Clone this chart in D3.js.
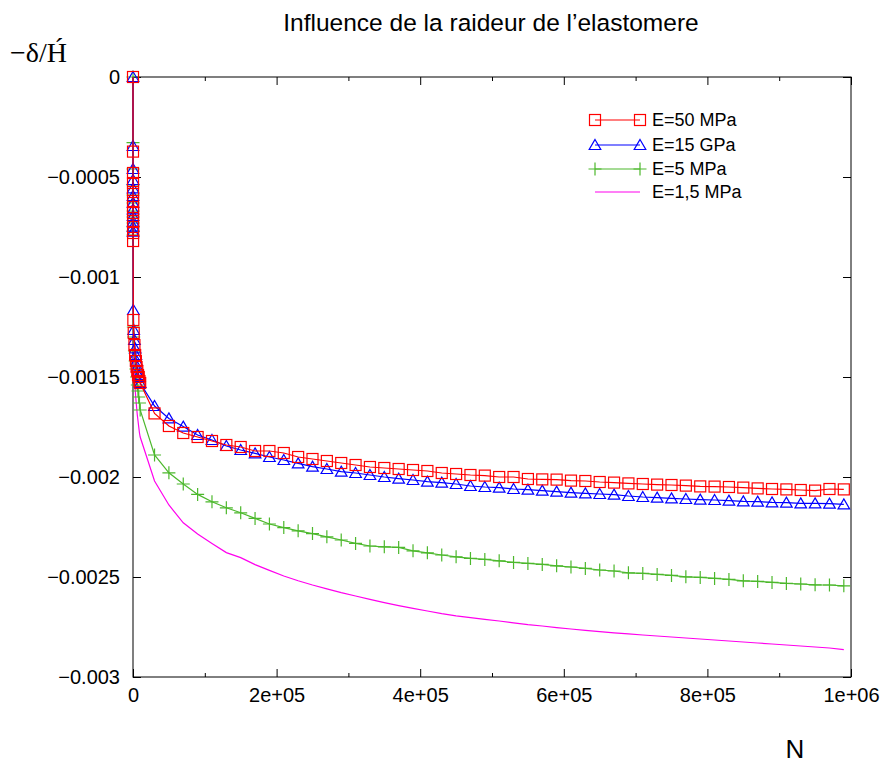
<!DOCTYPE html>
<html>
<head>
<meta charset="utf-8">
<script src="https://cdn.jsdelivr.net/npm/d3@7"></script>
<style>
  body { margin: 0; background: #fff; }
  svg text { font-family: "Liberation Sans", Arial, sans-serif; }
</style>
</head>
<body>
<div id="content"></div>
<script>
// N (cycles) shared by all four curves
var cycles = [0, 10, 20, 30, 40, 50, 60, 70, 80, 90, 100, 110,
  500, 1000, 2000, 3000, 4000, 5000, 6000, 7000, 8000, 9000,
  10000, 30000, 50000, 70000, 90000, 110000, 130000, 150000, 170000, 190000,
  210000, 230000, 250000, 270000, 290000, 310000, 330000, 350000, 370000, 390000,
  410000, 430000, 450000, 470000, 490000, 510000, 530000, 550000, 570000, 590000,
  610000, 630000, 650000, 670000, 690000, 710000, 730000, 750000, 770000, 790000,
  810000, 830000, 850000, 870000, 890000, 910000, 930000, 950000, 970000, 990000];

var e50MPa = [0, -0.000373, -0.00048, -0.00053, -0.000575, -0.00062, -0.00065, -0.00068, -0.00072, -0.00075, -0.00078, -0.00082,
  -0.001215, -0.00128, -0.00134, -0.00139, -0.00142, -0.00145, -0.00147, -0.00149, -0.0015, -0.00152,
  -0.00153, -0.001682, -0.001745, -0.00178, -0.0018, -0.00182, -0.00184, -0.00185, -0.00187, -0.00187,
  -0.00188, -0.0019, -0.00191, -0.00192, -0.00193, -0.00194, -0.00195, -0.001955, -0.00196, -0.001965,
  -0.00197, -0.00198, -0.001985, -0.00199, -0.001993, -0.002, -0.002, -0.00201, -0.002012, -0.002013,
  -0.002018, -0.00202, -0.002025, -0.002028, -0.002032, -0.002035, -0.002038, -0.00204, -0.002043, -0.002047,
  -0.002048, -0.00205, -0.002053, -0.002057, -0.00206, -0.002062, -0.002065, -0.002068, -0.00206, -0.002062];

var e15GPa = [0, -0.000345, -0.00046, -0.000515, -0.000557, -0.000595, -0.000628, -0.000662, -0.000695, -0.000723, -0.000748, -0.000773,
  -0.001165, -0.001265, -0.001315, -0.001357, -0.00139, -0.00142, -0.00145, -0.00147, -0.00149, -0.0015,
  -0.00153, -0.001645, -0.001707, -0.001748, -0.00179, -0.001815, -0.001845, -0.001865, -0.001882, -0.0019,
  -0.001915, -0.001932, -0.001948, -0.00196, -0.001973, -0.00198, -0.00199, -0.002, -0.002008, -0.002015,
  -0.002023, -0.002028, -0.002035, -0.002045, -0.00205, -0.002053, -0.00206, -0.002063, -0.002068, -0.002073,
  -0.002078, -0.002082, -0.002085, -0.002088, -0.002095, -0.0021, -0.002103, -0.002107, -0.00211, -0.002113,
  -0.002115, -0.002118, -0.002122, -0.002123, -0.002127, -0.002128, -0.002132, -0.002132, -0.002133, -0.002137];

var e5MPa = [0, -0.000328, -0.00046, -0.00054, -0.00059, -0.00063, -0.00067, -0.0007, -0.00073, -0.00075, -0.00077, -0.00079,
  -0.00125, -0.0013, -0.00137, -0.00142, -0.00146, -0.0015, -0.00154, -0.00157, -0.0016, -0.00163,
  -0.001665, -0.00189, -0.001979, -0.002035, -0.002087, -0.002124, -0.002154, -0.002179, -0.002207, -0.002235,
  -0.002253, -0.002269, -0.002283, -0.002299, -0.002315, -0.002332, -0.002345, -0.002349, -0.002352, -0.002369,
  -0.002379, -0.00239, -0.002399, -0.002407, -0.002412, -0.002419, -0.002427, -0.002432, -0.002437, -0.002444,
  -0.00245, -0.002457, -0.002465, -0.00247, -0.002479, -0.002482, -0.002487, -0.002492, -0.002499, -0.002502,
  -0.002507, -0.002512, -0.002519, -0.002522, -0.002527, -0.002532, -0.002535, -0.002539, -0.00254, -0.002544];

var e1_5MPa = [0, -0.00035, -0.00048, -0.00056, -0.00062, -0.00066, -0.0007, -0.00073, -0.00076, -0.00079, -0.00081, -0.00083,
  -0.0013, -0.0014, -0.0015, -0.00156, -0.00161, -0.00165, -0.00169, -0.00172, -0.00175, -0.00178,
  -0.0018, -0.00202, -0.00214, -0.002229, -0.002285, -0.002332, -0.002378, -0.002403, -0.002438, -0.002467,
  -0.002495, -0.002519, -0.00254, -0.002559, -0.002578, -0.002595, -0.002612, -0.002628, -0.002643, -0.002657,
  -0.00267, -0.002683, -0.002694, -0.002703, -0.002712, -0.00272, -0.002729, -0.002738, -0.002745, -0.002753,
  -0.00276, -0.002767, -0.002773, -0.002779, -0.002784, -0.00279, -0.002795, -0.0028, -0.002805, -0.00281,
  -0.002815, -0.00282, -0.002825, -0.00283, -0.002835, -0.00284, -0.002845, -0.00285, -0.002855, -0.002863];

var seriesNames = ["E=50 MPa", "E=15 GPa", "E=5 MPa", "E=1,5 MPa"];

var xTicks = [0, 200000, 400000, 600000, 800000, 1000000];
var xTickLabels = ["0", "2e+05", "4e+05", "6e+05", "8e+05", "1e+06"];
var xMinorTicks = [100000, 300000, 500000, 700000, 900000];
var yTicks = [0, -0.0005, -0.001, -0.0015, -0.002, -0.0025, -0.003];
var yTickLabels = ["0", "\u22120.0005", "\u22120.001", "\u22120.0015", "\u22120.002", "\u22120.0025", "\u22120.003"];

var width = 884, height = 764;
var plotLeft = 133, plotRight = 851, plotTop = 77, plotBottom = 677;

var colors = ["#ff0000", "#0000ff", "#4cb82c", "#ff00ee"];
var markers = ["square", "triangle", "plus", "none"];

var svg = d3.select("#content").append("svg")
  .attr("width", width)
  .attr("height", height);

var x = d3.scaleLinear().domain([0, 1000000]).range([plotLeft, plotRight]);
var y = d3.scaleLinear().domain([-0.003, 0]).range([plotBottom, plotTop]);

// axes, ticks pointing inward like gnuplot
svg.append("g")
  .attr("transform", "translate(0," + plotBottom + ")")
  .call(d3.axisBottom(x).tickValues(xTicks).tickFormat(function(d, i) { return xTickLabels[i]; })
    .tickSizeInner(-8).tickSizeOuter(0).tickPadding(11))
  .call(function(g) { g.select(".domain").remove(); });
svg.append("g")
  .attr("transform", "translate(0," + plotBottom + ")")
  .call(d3.axisBottom(x).tickValues(xMinorTicks).tickFormat("").tickSizeInner(-4).tickSizeOuter(0))
  .call(function(g) { g.select(".domain").remove(); });
svg.append("g")
  .attr("transform", "translate(0," + plotTop + ")")
  .call(d3.axisTop(x).tickValues(xTicks).tickFormat("").tickSizeInner(-8).tickSizeOuter(0))
  .call(function(g) { g.select(".domain").remove(); });
svg.append("g")
  .attr("transform", "translate(0," + plotTop + ")")
  .call(d3.axisTop(x).tickValues(xMinorTicks).tickFormat("").tickSizeInner(-4).tickSizeOuter(0))
  .call(function(g) { g.select(".domain").remove(); });
svg.append("g")
  .attr("transform", "translate(" + plotLeft + ",0)")
  .call(d3.axisLeft(y).tickValues(yTicks).tickFormat(function(d, i) { return yTickLabels[i]; })
    .tickSizeInner(-8).tickSizeOuter(0).tickPadding(13))
  .call(function(g) { g.select(".domain").remove(); });
svg.append("g")
  .attr("transform", "translate(" + plotRight + ",0)")
  .call(d3.axisRight(y).tickValues(yTicks).tickFormat("").tickSizeInner(-8).tickSizeOuter(0))
  .call(function(g) { g.select(".domain").remove(); });

svg.selectAll(".tick text")
  .style("font-size", "20px")
  .attr("fill", "#000");
svg.selectAll(".tick line").attr("stroke", "#000");

// frame
svg.append("rect")
  .attr("x", plotLeft).attr("y", plotTop)
  .attr("width", plotRight - plotLeft).attr("height", plotBottom - plotTop)
  .attr("fill", "none").attr("stroke", "#000").attr("stroke-width", 1);

// title and axis labels
svg.append("text")
  .attr("x", 491).attr("y", 31)
  .attr("text-anchor", "middle")
  .style("font-size", "24.5px")
  .text("Influence de la raideur de l\u2019elastomere");

svg.append("text")
  .attr("x", 10).attr("y", 62)
  .style("font-family", "'Liberation Serif', 'Times New Roman', serif")
  .style("font-size", "28px")
  .text("\u2212\u03b4/H\u0301");

svg.append("text")
  .attr("x", 795).attr("y", 758)
  .attr("text-anchor", "middle")
  .style("font-size", "26px")
  .text("N");

var allSeries = [e50MPa, e15GPa, e5MPa, e1_5MPa];

var line = d3.line()
  .x(function(d) { return x(d[0]); })
  .y(function(d) { return y(d[1]); });

function drawMarker(g, kind, px, py, color) {
  if (kind == "square") {
    g.append("rect")
      .attr("x", px - 5.5).attr("y", py - 5.5)
      .attr("width", 11).attr("height", 11)
      .attr("fill", "none").attr("stroke", color).attr("stroke-width", 1.2);
  } else if (kind == "triangle") {
    g.append("path")
      .attr("d", "M" + px + "," + (py - 5.5) + "L" + (px + 5.8) + "," + (py + 4.5) + "L" + (px - 5.8) + "," + (py + 4.5) + "Z")
      .attr("fill", "none").attr("stroke", color).attr("stroke-width", 1.2);
  } else if (kind == "plus") {
    g.append("path")
      .attr("d", "M" + (px - 6.5) + "," + py + "H" + (px + 6.5) + "M" + px + "," + (py - 6.5) + "V" + (py + 6.5))
      .attr("fill", "none").attr("stroke", color).attr("stroke-width", 1.2);
  }
}

// draw from back to front: magenta first, red last
for (var s = allSeries.length - 1; s >= 0; s--) {
  var pts = cycles.map(function(n, i) { return [n, allSeries[s][i]]; });
  var g = svg.append("g");
  g.append("path")
    .datum(pts)
    .attr("d", line)
    .attr("fill", "none")
    .attr("stroke", colors[s])
    .attr("stroke-width", 1.2);
  for (var i = 0; i < pts.length; i++) {
    drawMarker(g, markers[s], x(pts[i][0]), y(pts[i][1]), colors[s]);
  }
}

// legend
var legendY = [120, 145, 169, 192];
for (var s = 0; s < seriesNames.length; s++) {
  var lg = svg.append("g");
  lg.append("line")
    .attr("x1", 595).attr("x2", 640)
    .attr("y1", legendY[s]).attr("y2", legendY[s])
    .attr("stroke", colors[s]).attr("stroke-width", 1.2);
  drawMarker(lg, markers[s], 595, legendY[s], colors[s]);
  drawMarker(lg, markers[s], 640, legendY[s], colors[s]);
  lg.append("text")
    .attr("x", 652).attr("y", legendY[s])
    .attr("dy", "0.36em")
    .style("font-size", "18px")
    .text(seriesNames[s]);
}
</script>
</body>
</html>
